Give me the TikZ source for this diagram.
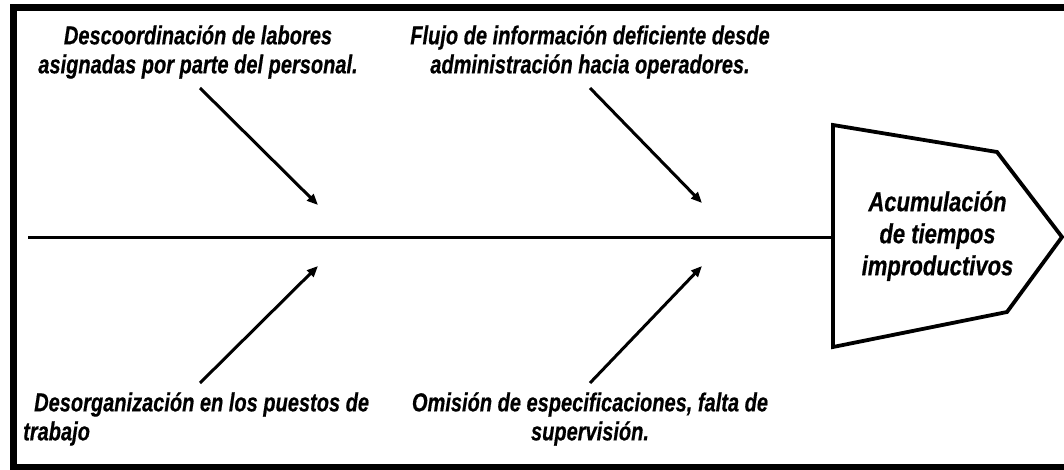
\documentclass[tikz,border=0pt]{standalone}
\usepackage{fontspec}
\setmainfont{Liberation Sans}
\newfontfamily\lblfont[FakeStretch=0.77, BoldItalicFeatures={FakeBold=0.5}]{Liberation Sans}
\newfontfamily\headfont[FakeStretch=0.80, BoldItalicFeatures={FakeBold=0.5}]{Liberation Sans}
\usetikzlibrary{arrows.meta}
\begin{document}
\begin{tikzpicture}[x=1pt,y=-1pt,
  lbl/.style={font=\lblfont\fontsize{26}{29}\selectfont\bfseries\itshape, inner sep=0pt},
  headtxt/.style={font=\headfont\fontsize{27.5}{32}\selectfont\bfseries\itshape, inner sep=0pt, align=center},
  bone/.style={line width=3pt, -{Triangle[length=11pt,width=9pt]}},
  spine/.style={line width=3pt},
  headshape/.style={line width=3.8pt, line join=miter},
  frame/.style={line width=7pt}
]
\useasboundingbox (0,0) rectangle (1064,470);
\fill[white] (0,0) rectangle (1064,470);
\draw[frame] (13,7.5) rectangle (1067,467.5);

% head (pentagon)
\draw[headshape] (833,125) -- (997,152) -- (1062,237) -- (1007,312) -- (833,347) -- cycle;
\node[headtxt] (head) at (937.5,236) {Acumulación\\de tiempos\\improductivos};

% spine
\coordinate (tail) at (28,237);
\coordinate (hl) at (833,237);
\draw[spine] (tail) -- (hl);

% labels
\node[lbl, align=center] (l1) at (198,52) {Descoordinación de labores\\asignadas por parte del personal.};
\node[lbl, align=center] (l2) at (590,52) {Flujo de información deficiente desde\\administración hacia operadores.};
\node[lbl, align=left, anchor=west] (l3) at (23,419) {\hspace*{11pt}Desorganización en los puestos de\\trabajo};
\node[lbl, align=center] (l4) at (590,419) {Omisión de especificaciones, falta de\\supervisión.};

% bones
\coordinate (a1s) at (200,88);  \coordinate (a1e) at (318,205);
\coordinate (a2s) at (590,88);  \coordinate (a2e) at (702,203);
\coordinate (a3s) at (200,383); \coordinate (a3e) at (318,266);
\coordinate (a4s) at (590,383); \coordinate (a4e) at (702,266);
\draw[bone] (a1s) -- (a1e);
\draw[bone] (a2s) -- (a2e);
\draw[bone] (a3s) -- (a3e);
\draw[bone] (a4s) -- (a4e);
\end{tikzpicture}
\end{document}
